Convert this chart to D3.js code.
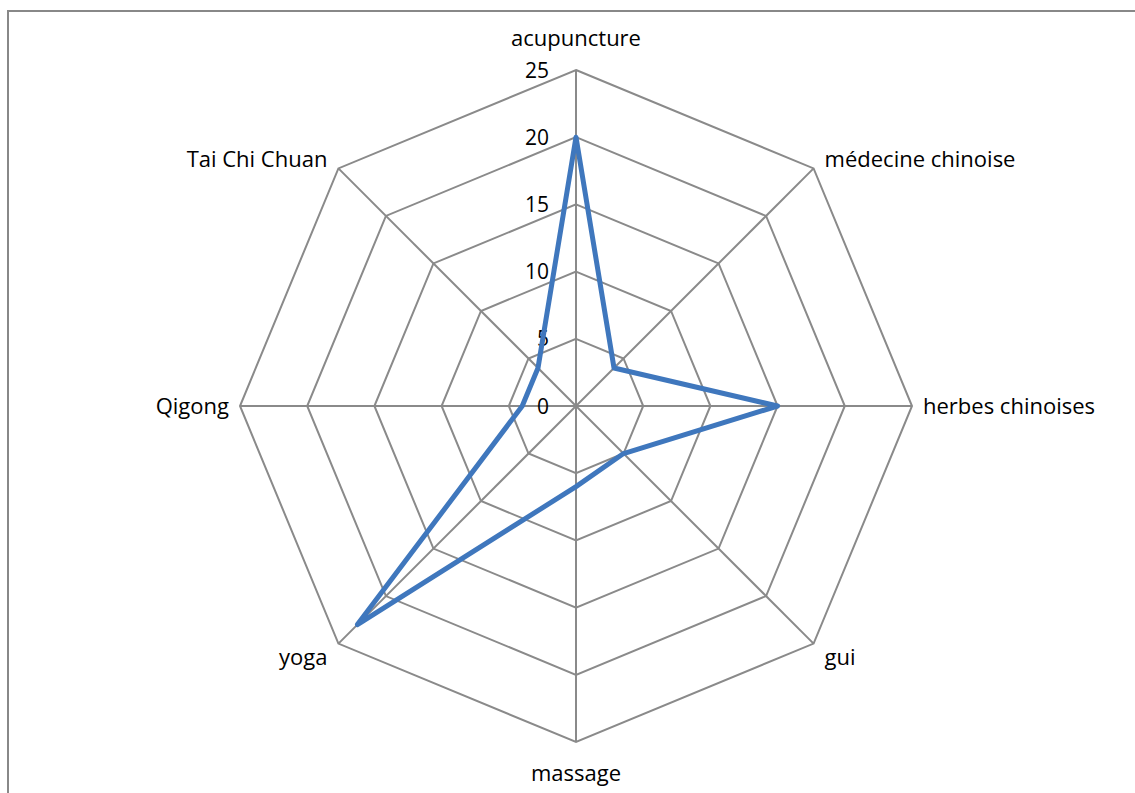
<!DOCTYPE html>
<html>
<head>
<meta charset="utf-8">
<script src="https://cdn.jsdelivr.net/npm/d3@7"></script>
<style>
  body { margin: 0; background: #fff; }
  text { font-family: "Open Sans", "Liberation Sans", sans-serif; fill: #000; }
</style>
</head>
<body>
<script>
// data
var categories = ["acupuncture", "médecine chinoise", "herbes chinoises", "gui",
                  "massage", "yoga", "Qigong", "Tai Chi Chuan"];
var values = [20, 4, 15, 5, 6, 23, 4, 4];
var ticks = [0, 5, 10, 15, 20, 25];

var width = 1135, height = 793,
    cx = 576, cy = 406, R = 336;

var svg = d3.select("body").append("svg")
    .attr("width", width).attr("height", height);

// outer frame (runs off right/bottom edge)
svg.append("rect")
    .attr("x", 8).attr("y", 11)
    .attr("width", width).attr("height", height)
    .attr("fill", "none").attr("stroke", "#888").attr("stroke-width", 2);

var r = d3.scaleLinear().domain([0, 25]).range([0, R]);
var n = categories.length;
var angle = function (i) { return i * 2 * Math.PI / n; };

var g = svg.append("g").attr("transform", "translate(" + cx + "," + cy + ")");

// rings
var ring = d3.lineRadial().angle(function (d, i) { return angle(i); }).curve(d3.curveLinearClosed);
ticks.slice(1).forEach(function (t) {
    g.append("path")
        .attr("d", ring.radius(r(t))(categories))
        .attr("fill", "none").attr("stroke", "#8a8a8a").attr("stroke-width", 2);
});

// spokes
categories.forEach(function (c, i) {
    var a = angle(i);
    g.append("line")
        .attr("x1", 0).attr("y1", 0)
        .attr("x2", r(25) * Math.sin(a)).attr("y2", -r(25) * Math.cos(a))
        .attr("stroke", "#8a8a8a").attr("stroke-width", 2);
});

// tick labels
g.selectAll(".tick").data(ticks).enter().append("text")
    .attr("x", -27).attr("y", function (d) { return -r(d); })
    .attr("dy", "0.36em")
    .attr("text-anchor", "end")
    .style("font-size", "21px")
    .text(function (d) { return d; });

// category labels
categories.forEach(function (c, i) {
    var a = angle(i), s = Math.sin(a), co = Math.cos(a);
    var x = r(25) * s, y = -r(25) * co;
    var anchor = "middle", dx = 0, dy = 0;
    if (s > 0.1) { anchor = "start"; dx = 11; }
    if (s < -0.1) { anchor = "end"; dx = -11; }
    if (co > 0.9) dy = -24;
    else if (co > 0.1) dy = -1;
    else if (co < -0.9) dy = 39;
    else if (co < -0.1) dy = 21;
    else dy = 8;
    g.append("text")
        .attr("x", x + dx).attr("y", y + dy)
        .attr("text-anchor", anchor)
        .style("font-size", "22px")
        .text(c);
});

// series
var series = d3.lineRadial()
    .angle(function (d, i) { return angle(i); })
    .radius(function (d) { return r(d); })
    .curve(d3.curveLinearClosed);

g.append("path")
    .attr("d", series(values))
    .attr("fill", "none")
    .attr("stroke", "#3f77bd")
    .attr("stroke-width", 5)
    .attr("stroke-linejoin", "round");
</script>
</body>
</html>
